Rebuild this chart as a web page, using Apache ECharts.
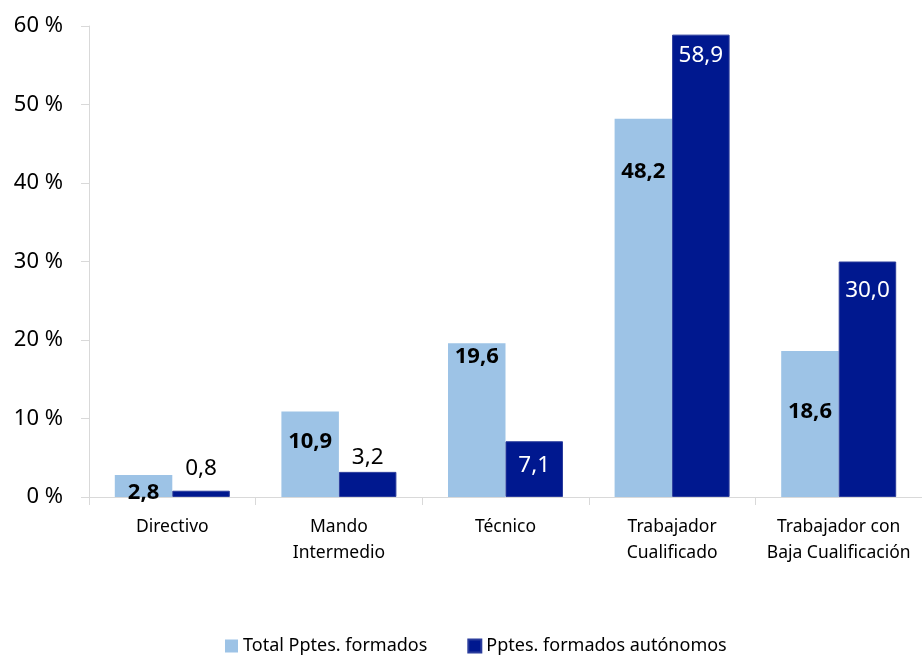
<!DOCTYPE html>
<html>
<head>
<meta charset="utf-8">
<script src="https://cdn.jsdelivr.net/npm/echarts@6/dist/echarts.min.js"></script>
<style>
  html, body { margin: 0; padding: 0; background: #fff; }
  #main { width: 922px; height: 655px; }
</style>
</head>
<body>
<div id="main"></div>
<script>
// categorias y valores (%)
const categories = ['Directivo', 'Mando\nIntermedio', 'Técnico', 'Trabajador\nCualificado', 'Trabajador con\nBaja Cualificación']
const totalFormados = [2.8, 10.9, 19.6, 48.2, 18.6]
const autonomos = [0.8, 3.2, 7.1, 58.9, 30.0]
const seriesNames = ['Total Pptes. formados', 'Pptes. formados autónomos']

const FONT = 'Noto Sans'
const fmt = v => v.toFixed(1).replace('.', ',')

// desplazamiento de etiquetas respecto a la parte superior de la barra (como en el original)
const lightDy = [18, 30, 14, 53, 61]
const darkDy = [-22, -14, 24, 21, 29]
const darkLabelColor = ['#000', '#000', '#fff', '#fff', '#fff']

const chart = echarts.init(document.getElementById('main'))

const option = {
  animation: false,
  textStyle: { fontFamily: FONT },
  grid: { left: 89, width: 837, top: 26, bottom: 158, containLabel: false },
  legend: {
    left: 220,
    top: 632,
    icon: 'rect',
    itemWidth: 13,
    itemHeight: 13,
    itemGap: 40,
    textStyle: { fontFamily: FONT, fontSize: 18, color: '#000' },
    data: seriesNames
  },
  xAxis: {
    type: 'category',
    data: categories,
    axisLine: { lineStyle: { color: '#d9d9d9', width: 1 } },
    axisTick: { show: true, length: 8, lineStyle: { color: '#d9d9d9' } },
    axisLabel: {
      interval: 0,
      margin: 17,
      fontSize: 17.5,
      lineHeight: 26,
      color: '#000',
      fontFamily: FONT
    }
  },
  yAxis: {
    type: 'value',
    min: 0,
    max: 60,
    interval: 10,
    axisLine: { show: true, lineStyle: { color: '#d9d9d9', width: 1 } },
    axisTick: { show: true, length: 8, lineStyle: { color: '#d9d9d9' } },
    splitLine: { show: false },
    axisLabel: {
      margin: 26,
      fontSize: 22,
      color: '#000',
      fontFamily: FONT,
      formatter: '{value} %'
    }
  },
  series: [
    {
      name: seriesNames[0],
      type: 'bar',
      barWidth: 57.5,
      barGap: '0%',
      itemStyle: { color: '#9DC3E6' },
      data: totalFormados.map((v, i) => ({
        value: v,
        label: {
          show: true,
          position: ['50%', lightDy[i]],
          align: 'center',
          verticalAlign: 'middle',
          formatter: fmt(v),
          fontSize: 22,
          fontWeight: 'bold',
          color: '#000',
          fontFamily: FONT
        }
      }))
    },
    {
      name: seriesNames[1],
      type: 'bar',
      barWidth: 57.5,
      barGap: '0%',
      itemStyle: { color: '#00188F', borderColor: '#2a3c9c', borderWidth: 1 },
      data: autonomos.map((v, i) => ({
        value: v,
        label: {
          show: true,
          position: ['50%', darkDy[i]],
          align: 'center',
          verticalAlign: 'middle',
          formatter: fmt(v),
          fontSize: 22.5,
          color: darkLabelColor[i],
          fontFamily: FONT
        }
      }))
    }
  ]
}

chart.setOption(option)
</script>
</body>
</html>
